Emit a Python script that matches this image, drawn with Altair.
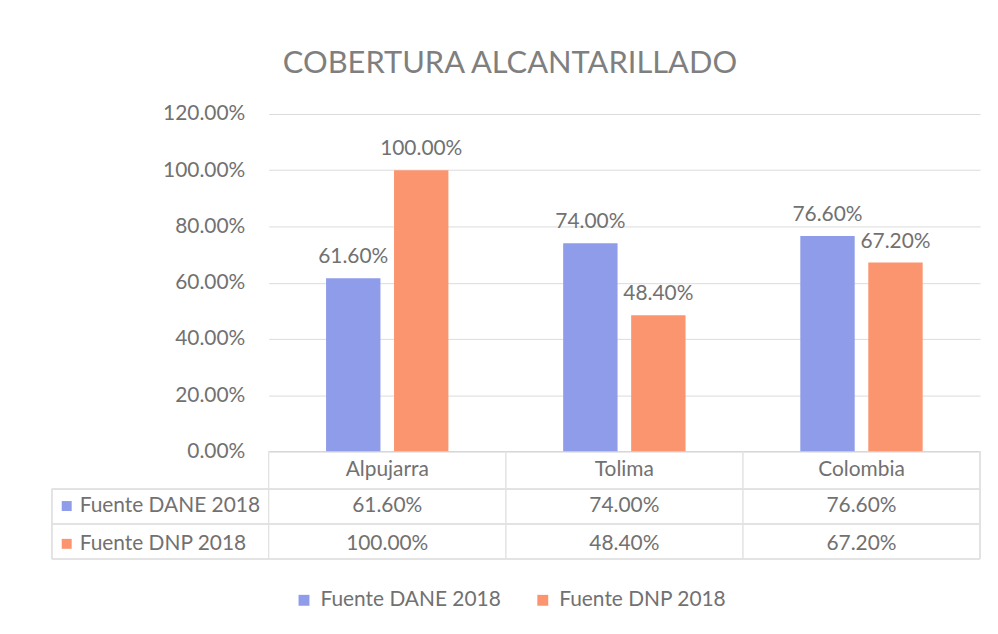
import altair as alt
import pandas as pd

categories = ["Alpujarra", "Tolima", "Colombia"]
series = ["Fuente DANE 2018", "Fuente DNP 2018"]
dane = [0.616, 0.740, 0.766]
dnp = [1.000, 0.484, 0.672]
y_ticks = [0, 0.2, 0.4, 0.6, 0.8, 1.0, 1.2]
colors = ["#8E9CEA", "#FA9570"]

rows = []
for i, c in enumerate(categories):
    rows.append({"cat": c, "series": series[0], "value": dane[i]})
    rows.append({"cat": c, "series": series[1], "value": dnp[i]})
df = pd.DataFrame(rows)

FONT = "Lato"
GREY = "#717171"
FS = 21
W, H = 715, 339
P_IN = 0.484
STEP = W / len(categories)

x_enc = alt.X("cat:N", sort=categories, title=None,
              scale=alt.Scale(paddingInner=P_IN, paddingOuter=P_IN / 2),
              axis=alt.Axis(labelAngle=0, labelFontSize=FS, labelColor=GREY, labelFont=FONT,
                            ticks=False, domainColor="#d0d0d0", labelPadding=7))
xoff = alt.XOffset("series:N", sort=series, scale=alt.Scale(paddingInner=0.2, paddingOuter=0))
color = alt.Color("series:N", sort=series,
                  scale=alt.Scale(domain=series, range=colors),
                  legend=alt.Legend(orient="none", legendX=25, legendY=478, direction="horizontal",
                                    title=None, symbolType="square", symbolSize=120,
                                    symbolStrokeWidth=0, labelFontSize=FS, labelColor=GREY,
                                    labelFont=FONT, columnPadding=31, labelOffset=6,
                                    labelLimit=400, symbolOffset=0))

base = alt.Chart(df)

bars = base.mark_bar().encode(
    x=x_enc,
    xOffset=xoff,
    y=alt.Y("value:Q", title=None,
            scale=alt.Scale(domain=[0, 1.2], nice=False),
            axis=alt.Axis(values=y_ticks, format=".2%", labelFontSize=FS, labelColor=GREY,
                          labelFont=FONT, ticks=False, domain=False, gridColor="#dcdcdc",
                          labelPadding=24)),
    color=color,
)

labels = base.mark_text(baseline="bottom", dy=-11, fontSize=FS, color=GREY, font=FONT).encode(
    x=alt.X("cat:N", sort=categories),
    xOffset=xoff,
    y="value:Q",
    text=alt.Text("value:Q", format=".2%"),
)

layers = [bars, labels]

# data table below the axis
row_y = [394, 432]
for s, yv, col in zip(series, row_y, colors):
    sub = base.transform_filter(alt.datum.series == s)
    layers.append(sub.mark_text(fontSize=FS, color=GREY, font=FONT, baseline="middle").encode(
        x=alt.X("cat:N", sort=categories),
        y=alt.value(yv),
        text=alt.Text("value:Q", format=".2%"),
    ))
    name_df = pd.DataFrame({"series": [s]})
    layers.append(alt.Chart(name_df).mark_text(fontSize=FS, color=GREY, font=FONT, align="left",
                                               baseline="middle").encode(
        x=alt.value(-190), y=alt.value(yv), text="series:N"))
    layers.append(alt.Chart(name_df).mark_square(size=100, color=col, opacity=1).encode(
        x=alt.value(-203), y=alt.value(yv)))

line_c = "#e2e2e2"
for yv in [377, 412, 447]:
    layers.append(base.mark_rule(color=line_c, strokeWidth=1).encode(
        x=alt.value(-218), x2=alt.value(W), y=alt.value(yv)))
layers.append(base.mark_rule(color=line_c, strokeWidth=1, xOffset=-STEP * P_IN / 2).encode(
    x=alt.X("cat:N", sort=categories, bandPosition=0), y=alt.value(H), y2=alt.value(447)))
layers.append(base.mark_rule(color=line_c, strokeWidth=1).encode(
    x=alt.value(W), y=alt.value(H), y2=alt.value(447)))
layers.append(base.mark_rule(color=line_c, strokeWidth=1).encode(
    x=alt.value(-218), y=alt.value(377), y2=alt.value(447)))

chart = alt.layer(*layers).properties(
    width=W, height=H,
    background="white",
    title=alt.TitleParams("COBERTURA ALCANTARILLADO", fontSize=31, fontWeight="normal",
                          color="#7f7f7f", font=FONT, anchor="middle", dx=-115, offset=23),
    autosize=alt.AutoSizeParams(type="none"),
    padding={"left": 262, "top": 105, "right": 10, "bottom": 170},
).configure_view(stroke="transparent", strokeWidth=0)

chart.save("out.html", embed_options={"renderer": "svg", "actions": False})
